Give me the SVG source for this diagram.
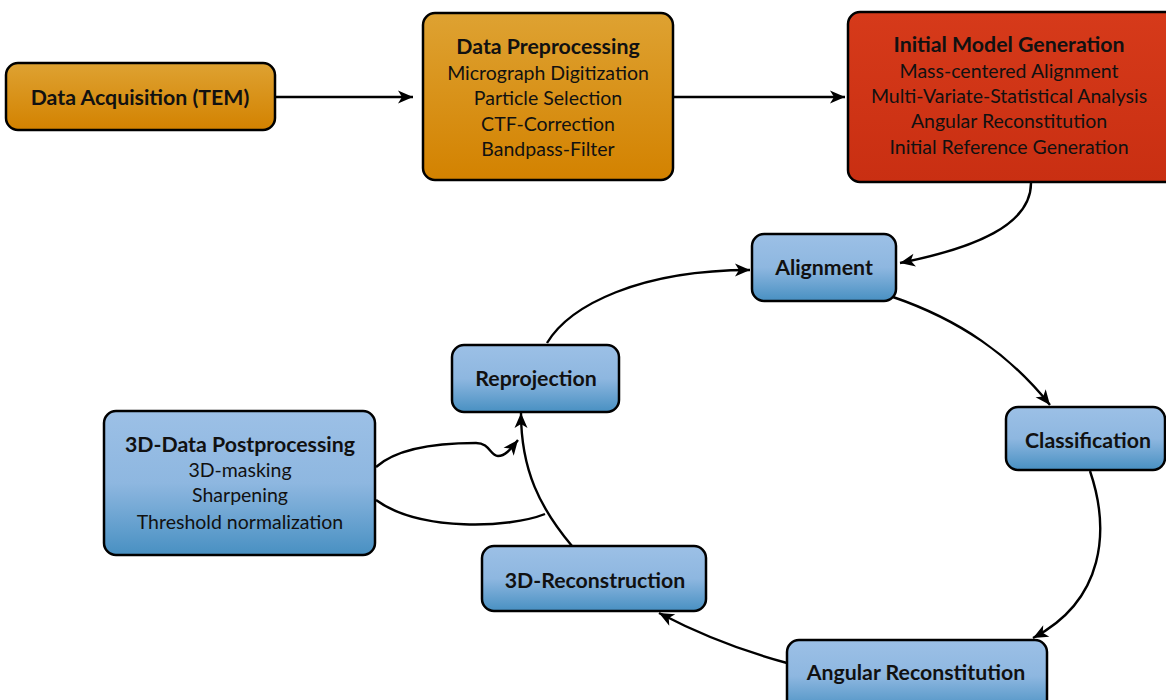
<svg xmlns="http://www.w3.org/2000/svg" width="1166" height="700" viewBox="0 0 1166 700">
<defs>
<linearGradient id="gOrange" x1="0" y1="0" x2="0" y2="1">
<stop offset="0" stop-color="#dea232"/>
<stop offset="1" stop-color="#d38200"/>
</linearGradient>
<linearGradient id="gRed" x1="0" y1="0" x2="0" y2="1">
<stop offset="0" stop-color="#d63a1a"/>
<stop offset="1" stop-color="#c92f12"/>
</linearGradient>
<linearGradient id="gBlue" x1="0" y1="0" x2="0" y2="1">
<stop offset="0" stop-color="#9cc0e6"/>
<stop offset="0.5" stop-color="#8eb7e0"/>
<stop offset="1" stop-color="#4890c2"/>
</linearGradient>
<marker id="arr" viewBox="0 0 17 15" markerWidth="17" markerHeight="15" refX="16" refY="7.5" orient="auto" markerUnits="userSpaceOnUse">
<path d="M1,1 L16,7.5 L1,14 L5,7.5 Z" fill="#000"/>
</marker>
</defs>
<style>
.box{stroke:#000;stroke-width:2.5}
.or{fill:url(#gOrange)}
.rd{fill:url(#gRed)}
.bl{fill:url(#gBlue)}
text{font-family:Lato,"Open Sans","Liberation Sans",sans-serif;font-size:19.5px;fill:#111;text-anchor:middle;dominant-baseline:central}
.b{font-weight:bold;font-size:21.3px}
.conn path{fill:none;stroke:#000;stroke-width:2.4}
</style>
<g id="connectors" class="conn">
<path d="M270,97 L413,97" marker-end="url(#arr)"/>
<path d="M673,97 L845,97" marker-end="url(#arr)"/>
<path d="M1031,183 C1031,225 975,248 900,263" marker-end="url(#arr)"/>
<path d="M547,343 C570,305 640,270 750,270" marker-end="url(#arr)"/>
<path d="M893,297 C960,320 1010,355 1050,405" marker-end="url(#arr)"/>
<path d="M1090,471 C1110,530 1105,600 1033,638" marker-end="url(#arr)"/>
<path d="M787,663 Q720,645 659,613" marker-end="url(#arr)"/>
<path d="M572,546 C540,508 521,470 521,413" marker-end="url(#arr)"/>
<path d="M545,514 C510,528 420,532 376,500"/>
<path d="M376,467 C395,450 430,443 476,443 C490,443 490,456 498,456 C505,456 510,450 518,440" marker-end="url(#arr)"/>
</g>
<g id="data-acquisition">
<rect class="box or" x="6" y="63" width="269" height="67" rx="12"/>
<text class="b" x="140" y="97">Data Acquisition (TEM)</text>
</g>
<g id="data-preprocessing">
<rect class="box or" x="423" y="13" width="250" height="167" rx="12"/>
<text class="b" x="548" y="46">Data Preprocessing</text>
<text x="548" y="72">Micrograph Digitization</text>
<text x="548" y="97">Particle Selection</text>
<text x="548" y="123">CTF-Correction</text>
<text x="548" y="148">Bandpass-Filter</text>
</g>
<g id="initial-model">
<rect class="box rd" x="848" y="12" width="330" height="170" rx="12"/>
<text class="b" x="1009" y="44">Initial Model Generation</text>
<text x="1009" y="70">Mass-centered Alignment</text>
<text x="1009" y="95">Multi-Variate-Statistical Analysis</text>
<text x="1009" y="120">Angular Reconstitution</text>
<text x="1009" y="146">Initial Reference Generation</text>
</g>
<g id="alignment">
<rect class="box bl" x="752" y="234" width="144" height="67" rx="12"/>
<text class="b" x="824" y="267">Alignment</text>
</g>
<g id="classification">
<rect class="box bl" x="1006" y="407" width="159" height="63" rx="12"/>
<text class="b" x="1088" y="440">Classification</text>
</g>
<g id="angular-reconstitution">
<rect class="box bl" x="787" y="640" width="260" height="72" rx="12"/>
<text class="b" x="916" y="672">Angular Reconstitution</text>
</g>
<g id="reconstruction-3d">
<rect class="box bl" x="482" y="546" width="224" height="65" rx="12"/>
<text class="b" x="595" y="580">3D-Reconstruction</text>
</g>
<g id="reprojection">
<rect class="box bl" x="452" y="345" width="167" height="67" rx="12"/>
<text class="b" x="536" y="378">Reprojection</text>
</g>
<g id="postprocessing">
<rect class="box bl" x="104" y="411" width="271" height="144" rx="12"/>
<text class="b" x="240" y="444">3D-Data Postprocessing</text>
<text x="240" y="469">3D-masking</text>
<text x="240" y="494">Sharpening</text>
<text x="240" y="521">Threshold normalization</text>
</g>
</svg>
